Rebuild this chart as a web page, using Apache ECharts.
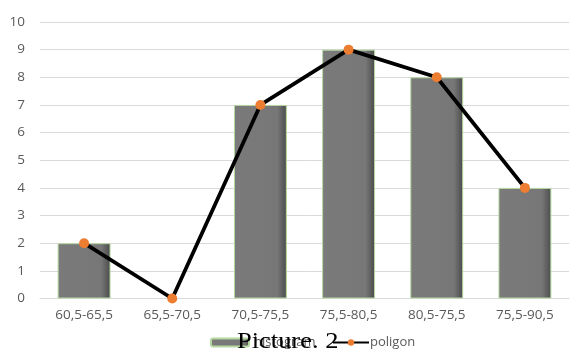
<!DOCTYPE html>
<html><head><meta charset="utf-8">
<script src="https://cdn.jsdelivr.net/npm/echarts@6/dist/echarts.min.js"></script>
<style>html,body{margin:0;padding:0;background:#fff}#c{width:570px;height:349px}</style>
</head><body><div id="c"></div>
<script>
var categories = ['60,5-65,5','65,5-70,5','70,5-75,5','75,5-80,5','80,5-75,5','75,5-90,5'];
var barValues = [2, 0, 7, 9, 8, 4];
var lineValues = [2, 0, 7, 9, 8, 4];
var yTicks = {min: 0, max: 10, interval: 1};
var barName = 'histogram';
var lineName = 'poligon';
var caption = 'Picture. 2';

var chart = echarts.init(document.getElementById('c'));
var font = '"Open Sans", "Liberation Sans", sans-serif';
var barData = barValues.map(function (v) {
  return v === 0 ? {value: v, itemStyle: {borderWidth: 0}} : v;
});
chart.setOption({
  animation: false,
  backgroundColor: '#fff',
  grid: {left: 40, right: 1, top: 22, bottom: 50.5, containLabel: false},
  xAxis: {
    type: 'category', data: categories,
    axisLine: {show: true, lineStyle: {color: '#d9d9d9', width: 1}},
    axisTick: {show: false},
    axisLabel: {color: '#595959', fontSize: 13.5, fontFamily: font, margin: 10}
  },
  yAxis: {
    type: 'value', min: yTicks.min, max: yTicks.max, interval: yTicks.interval,
    axisLine: {show: false}, axisTick: {show: false},
    splitLine: {lineStyle: {color: '#d9d9d9', width: 1}},
    axisLabel: {color: '#595959', fontSize: 13.5, fontFamily: font, margin: 15}
  },
  legend: [
    {data: [barName], left: 205, bottom: -5, itemWidth: 38, itemHeight: 8, itemGap: 5,
     textStyle: {color: '#595959', fontSize: 13, fontFamily: font}},
    {data: [lineName], left: 327, bottom: -5, itemWidth: 36, itemHeight: 8, itemGap: 5,
     textStyle: {color: '#595959', fontSize: 13, fontFamily: font, padding: [0, 0, 0, -4]}}
  ],
  series: [
    {
      name: barName, type: 'bar', data: barData, barWidth: '60%',
      itemStyle: {
        color: {type: 'linear', x: 0, y: 0, x2: 1, y2: 0, colorStops: [
          {offset: 0, color: '#7a7a7a'}, {offset: 0.82, color: '#777777'}, {offset: 1, color: '#4a4a4a'}]},
        borderColor: '#b5d8a0', borderWidth: 1
      }
    },
    {
      name: lineName, type: 'line', data: lineValues,
      symbol: 'circle', symbolSize: 10,
      lineStyle: {color: '#000', width: 3.8},
      itemStyle: {color: '#ed7d31'}, z: 5
    }
  ],
  graphic: [{
    type: 'text', x: 237, y: 353, scaleX: 1.15, z: 100,
    style: {text: caption, fontSize: 23, fontFamily: '"Liberation Serif", "Times New Roman", serif', fill: '#000',
            textAlign: 'left', textVerticalAlign: 'bottom', verticalAlign: 'bottom'}
  }]
});
</script></body></html>
